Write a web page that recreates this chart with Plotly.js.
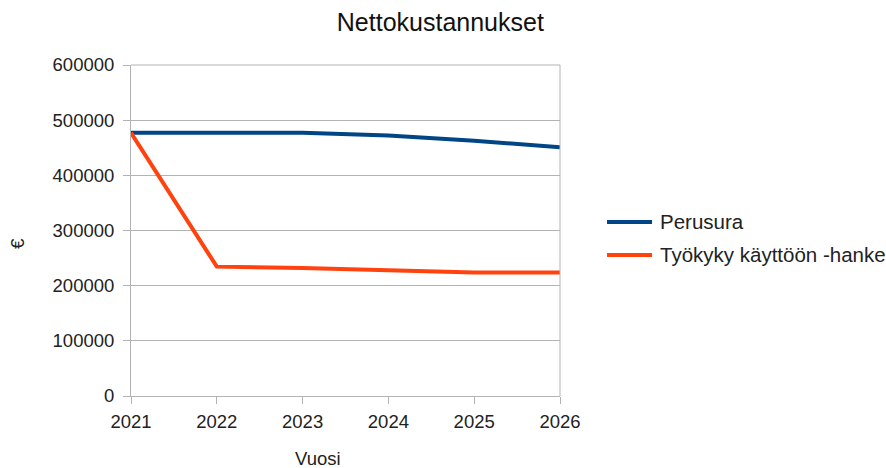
<!DOCTYPE html>
<html><head><meta charset="utf-8">
<script src="https://cdn.plot.ly/plotly-3.0.1.min.js"></script>
<style>body{margin:0;background:#fff}#c{width:886px;height:468px}</style>
</head><body><div id="c"></div>
<script>
const years = [2021, 2022, 2023, 2024, 2025, 2026];
const perusura = [477000, 477000, 477000, 472000, 462500, 451000];
const tyokyky = [477000, 234500, 232000, 228500, 224000, 224000];
const seriesNames = ["Perusura", "Työkyky käyttöön -hanke"];
const seriesColors = ["#004586", "#ff420e"];
const font = "Liberation Sans, Arial, sans-serif";
const traces = [
  {x: years, y: perusura, name: seriesNames[0], mode: "lines", line: {color: seriesColors[0], width: 4}},
  {x: years, y: tyokyky, name: seriesNames[1], mode: "lines", line: {color: seriesColors[1], width: 4}}
];
// legend drawn as shapes + annotations so the plot area keeps its size
const legendRowsY = [0.5257, 0.426];
const legendShapes = seriesNames.map((n, i) => ({type: "line", xref: "paper", yref: "paper",
  x0: 1.1096, x1: 1.2145, y0: legendRowsY[i], y1: legendRowsY[i], line: {color: seriesColors[i], width: 4}}));
const legendTexts = seriesNames.map((n, i) => ({text: n, xref: "paper", yref: "paper", x: 1.2284, y: legendRowsY[i],
  xanchor: "left", yanchor: "middle", showarrow: false, font: {size: 20.5, color: "#222"}}));
const layout = {
  width: 886, height: 468,
  margin: {l: 131, r: 326, t: 65, b: 72},
  paper_bgcolor: "#fff", plot_bgcolor: "#fff",
  font: {family: font, size: 18, color: "#222"},
  title: {text: "Nettokustannukset", font: {family: font, size: 25, color: "#111"}, x: 0.497, xanchor: "center", y: 0.953, yanchor: "middle"},
  xaxis: {range: [2021, 2026], tickvals: years, ticktext: years.map(String), showgrid: false, zeroline: false,
    showline: true, linecolor: "#b3b3b3", linewidth: 1, mirror: false, ticks: "outside", ticklen: 7, tickcolor: "#b3b3b3",
    tickfont: {size: 18.5}, ticklabelstandoff: 2},
  yaxis: {range: [0, 600000], dtick: 100000, tickformat: "d", showgrid: true, gridcolor: "#b3b3b3", zeroline: false,
    showline: true, linecolor: "#b3b3b3", ticks: "outside", ticklen: 7, tickcolor: "#b3b3b3",
    tickfont: {size: 18.5}, ticklabelstandoff: 5},
  annotations: [
    {text: "Vuosi", xref: "paper", yref: "paper", x: 0.436, y: -0.188, xanchor: "center", yanchor: "middle", showarrow: false, font: {size: 18.5}},
    {text: "€", xref: "paper", yref: "paper", x: -0.263, y: 0.46, xanchor: "center", yanchor: "middle", textangle: -90, showarrow: false, font: {size: 19}}
  ].concat(legendTexts),
  showlegend: false,
  shapes: [{type: "line", xref: "paper", yref: "paper", x0: 1, x1: 1, y0: 0, y1: 1, line: {color: "#b3b3b3", width: 1}},
           {type: "line", xref: "paper", yref: "paper", x0: 0, x1: 1, y0: 1, y1: 1, line: {color: "#b3b3b3", width: 1}}].concat(legendShapes)
};
Plotly.newPlot("c", traces, layout, {displayModeBar: false, staticPlot: true});
</script></body></html>
